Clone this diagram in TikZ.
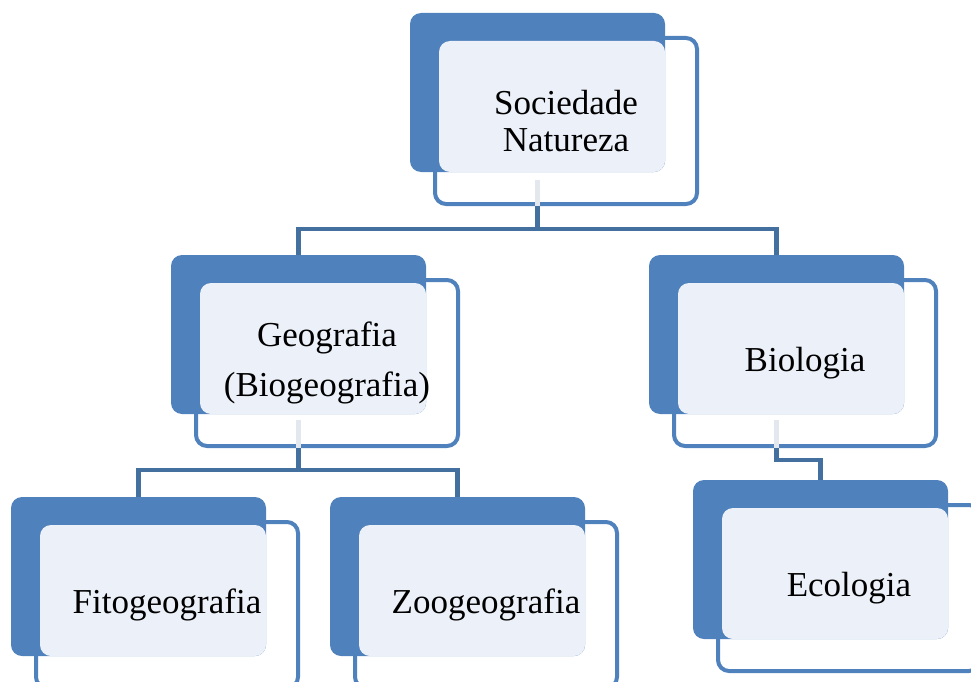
\documentclass[tikz,border=0pt]{standalone}
\usepackage{fontspec}
\setmainfont{Liberation Serif}
\definecolor{boxblue}{HTML}{4F81BD}
\definecolor{boxlight}{HTML}{ECF0F8}
\definecolor{linkblue}{HTML}{43709F}
\definecolor{linkfaint}{HTML}{E3E8EF}
\begin{document}
\begin{tikzpicture}[x=1pt,y=-1pt]
                        \tikzstyle{outerbox}=[draw=boxblue,line width=4pt,fill=white,rounded corners=11pt,minimum width=262pt,minimum height=166pt,inner sep=0pt]
                        \tikzstyle{backbox}=[fill=boxblue,rounded corners=11pt,minimum width=255pt,minimum height=159pt,inner sep=0pt]
                        \tikzstyle{lightbox}=[fill=boxlight,rounded corners=11pt,minimum width=226pt,minimum height=131pt,inner sep=0pt]
                        \tikzstyle{boxtext}=[font=\fontsize{35}{37}\selectfont,align=center]
                        \tikzstyle{link}=[draw=linkblue,line width=4.5pt]
                        \tikzstyle{faint}=[draw=linkfaint,line width=4.5pt]
                        \useasboundingbox (0,0) rectangle (971,682);
                        % stacked boxes
                        \foreach \name/\X/\Y/\txt in {
                            soc/410/13/{Sociedade\\Natureza},
                            geo/171/255/{Geografia\\[13pt](Biogeografia)},
                            bio/649/255/{Biologia},
                            fito/11/497/{Fitogeografia},
                            zoo/330/497/{Zoogeografia},
                            eco/693/480/{Ecologia}}
                        {
                            \node[outerbox] (\name-o) at (\X+156,\Y+108) {};
                            \node[backbox] (\name-b) at (\X+127.5,\Y+79.5) {};
                            \node[lightbox] (\name-l) at (\X+142,\Y+93.5) {};
                            \node[boxtext] (\name-t) at (\name-o.center) {\txt};
                        }
                        % connectors
                        \draw[faint] ([yshift=-8pt]soc-b.south) -- (soc-b.south |- soc-o.south);
                        \draw[link] (soc-b.south |- soc-o.south) -- ++(0,23) coordinate (soc-bus) -| (geo-b.north);
                        \draw[link] (soc-bus) -| (bio-b.north);
                        \draw[faint] ([yshift=-6pt]geo-b.south) -- (geo-b.south |- geo-o.south);
                        \draw[link] (geo-b.south |- geo-o.south) -- ++(0,22) coordinate (geo-bus) -| (fito-b.north);
                        \draw[link] (geo-bus) -| (zoo-b.north);
                        \draw[faint] ([yshift=-6pt]bio-b.south) -- (bio-b.south |- bio-o.south);
                        \draw[link] (bio-b.south |- bio-o.south) -- ++(0,12) -| (eco-b.north);
\end{tikzpicture}
\end{document}
